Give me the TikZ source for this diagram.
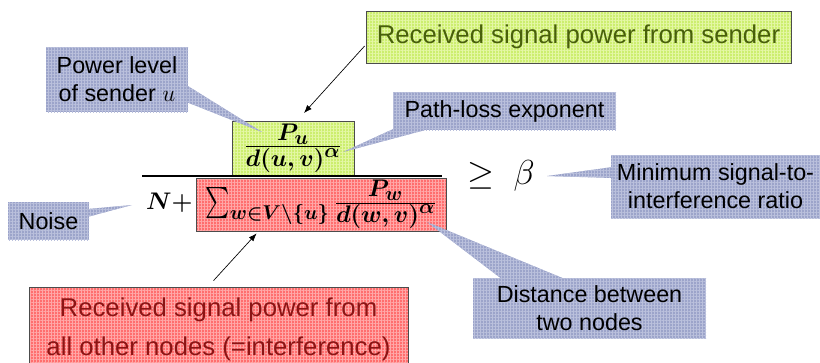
\RequirePackage{fix-cm}
\documentclass[tikz,border=0pt]{standalone}
\usepackage{amsmath}
\usepackage{amssymb}
\usepackage{exscale}
\usepackage{graphicx}
\usepackage[no-math]{fontspec}
\setmainfont{Liberation Sans}
\usetikzlibrary{positioning,arrows.meta,patterns.meta}
\DeclareMathSizes{18}{18}{15}{12}
\newcommand{\flatfrac}[2]{{\textstyle\frac{\raisebox{1.5pt}{$\textstyle #1$}}{\raisebox{-1.5pt}{$\textstyle #2$}}}}
\newcommand{\tallsum}{\mathop{\vcenter{\hbox{\scalebox{1}[1.35]{$\textstyle\sum$}}}}\nolimits}

\definecolor{callblue}{RGB}{156,164,202}
\definecolor{callgrid}{RGB}{186,192,220}
\definecolor{sigfill}{RGB}{204,238,110}
\definecolor{siggrid}{RGB}{228,247,165}
\definecolor{sigtext}{RGB}{72,96,10}
\definecolor{intfill}{RGB}{255,110,110}
\definecolor{intgrid}{RGB}{255,168,168}
\definecolor{inttext}{RGB}{140,20,20}

\begin{document}
\begin{tikzpicture}[x=0.75pt, y=-0.75pt,
  calloutfill/.style={fill=callblue, postaction={pattern={Hatch[distance=2.25pt,line width=0.35pt]}, pattern color=callgrid}},
  callout/.style={calloutfill, inner sep=0pt, align=center, font=\fontsize{17.5}{21}\selectfont},
  greenbox/.style={draw=black!70, line width=0.6pt, preaction={fill=sigfill}, pattern={Hatch[distance=2.25pt,line width=0.35pt]}, pattern color=siggrid, inner sep=0pt},
  redbox/.style={draw=black!70, line width=0.6pt, preaction={fill=intfill}, pattern={Hatch[distance=2.25pt,line width=0.35pt]}, pattern color=intgrid, inner sep=0pt},
  formula/.style={font=\fontsize{18}{22}\selectfont\boldmath},
  arr/.style={-{Latex[length=6pt,width=4.5pt]}, line width=0.5pt}]

  \useasboundingbox (0,0) rectangle (820,362);

  % The two signal boxes of the formula
  \node[greenbox, formula, minimum width=91.5pt, minimum height=40.5pt] (numbox) at (293,148) {$\flatfrac{P_u}{d(u,v)^{\alpha}}$};
  \node[redbox, formula, minimum width=187.5pt, minimum height=39.75pt] (sumbox) at (321,204.5) {$\tallsum_{w\in V\setminus\{u\}}\flatfrac{P_w}{d(w,v)^{\alpha}}$};
  \node[formula, inner sep=0pt, base left=2pt of sumbox] (nplus) {$N+$};

  % Fraction bar and threshold
  \coordinate (barL) at (142,176);
  \coordinate (barR) at (442,176);
  \draw[line width=1.5pt] (barL) -- (barR);
  \node[font=\fontsize{26}{30}\selectfont] (geq) at (501,176) {$\geq\;\beta$};

  % Large labels with arrows
  \node[greenbox, text=sigtext, font=\fontsize{19.3}{23}\selectfont, minimum width=318.75pt, minimum height=39pt] (sendbox) at (578.5,37) {Received signal power from sender};
  \node[redbox, text=inttext, align=center, font=\fontsize{19.3}{29}\selectfont, minimum width=284.25pt, minimum height=63.75pt] (intbox) at (218.5,329.5) {Received signal power from\\all other nodes (=interference)};

  \coordinate (sendtip) at (304,113);
  \draw[arr] ([shift={(-1,9)}]sendbox.west) -- (sendtip);
  \draw[arr] ([shift={(-5,-6)}]intbox.north) -- ([shift={(61,2)}]sumbox.south west);

  % Callouts
  \node[callout, minimum width=106.5pt, minimum height=48.75pt] (powerlbl) at (117,79.5) {Power level\\of sender $u$};
  \node[callout, minimum width=167.25pt, minimum height=28.5pt] (pathlbl) at (504.5,111) {Path-loss exponent};
  \node[callout, minimum width=156.75pt, minimum height=47.25pt] (minlbl) at (715.5,186.5) {Minimum signal-to-\\interference ratio};
  \node[callout, minimum width=60.75pt, minimum height=28.5pt] (noiselbl) at (48.5,221) {Noise};
  \node[callout, minimum width=174.75pt, minimum height=45pt] (distlbl) at (589.5,308) {Distance between\\two nodes};

  % Callout pointers
  \coordinate (powertip) at (262,132);
  \coordinate (pathtip) at (343,152);
  \coordinate (mintip) at (547,176);
  \coordinate (noisetip) at (132,205);
  \coordinate (disttip) at (427,222);
  \fill[calloutfill] ([shift={(-2,5.5)}]powerlbl.east) -- (powertip) -- ([shift={(-2,22.5)}]powerlbl.east) -- cycle;
  \fill[calloutfill] ([shift={(2,-2)}]pathlbl.south west) -- (pathtip) -- ([shift={(39,-2)}]pathlbl.south west) -- cycle;
  \fill[calloutfill] ([shift={(2,-19.5)}]minlbl.west) -- (mintip) -- ([shift={(2,-8.5)}]minlbl.west) -- cycle;
  \fill[calloutfill] ([shift={(-2,-12)}]noiselbl.east) -- (noisetip) -- ([shift={(-2,-4)}]noiselbl.east) -- cycle;
  \fill[calloutfill] ([shift={(30,2)}]distlbl.north west) -- (disttip) -- ([shift={(94,2)}]distlbl.north west) -- cycle;

\end{tikzpicture}
\end{document}
